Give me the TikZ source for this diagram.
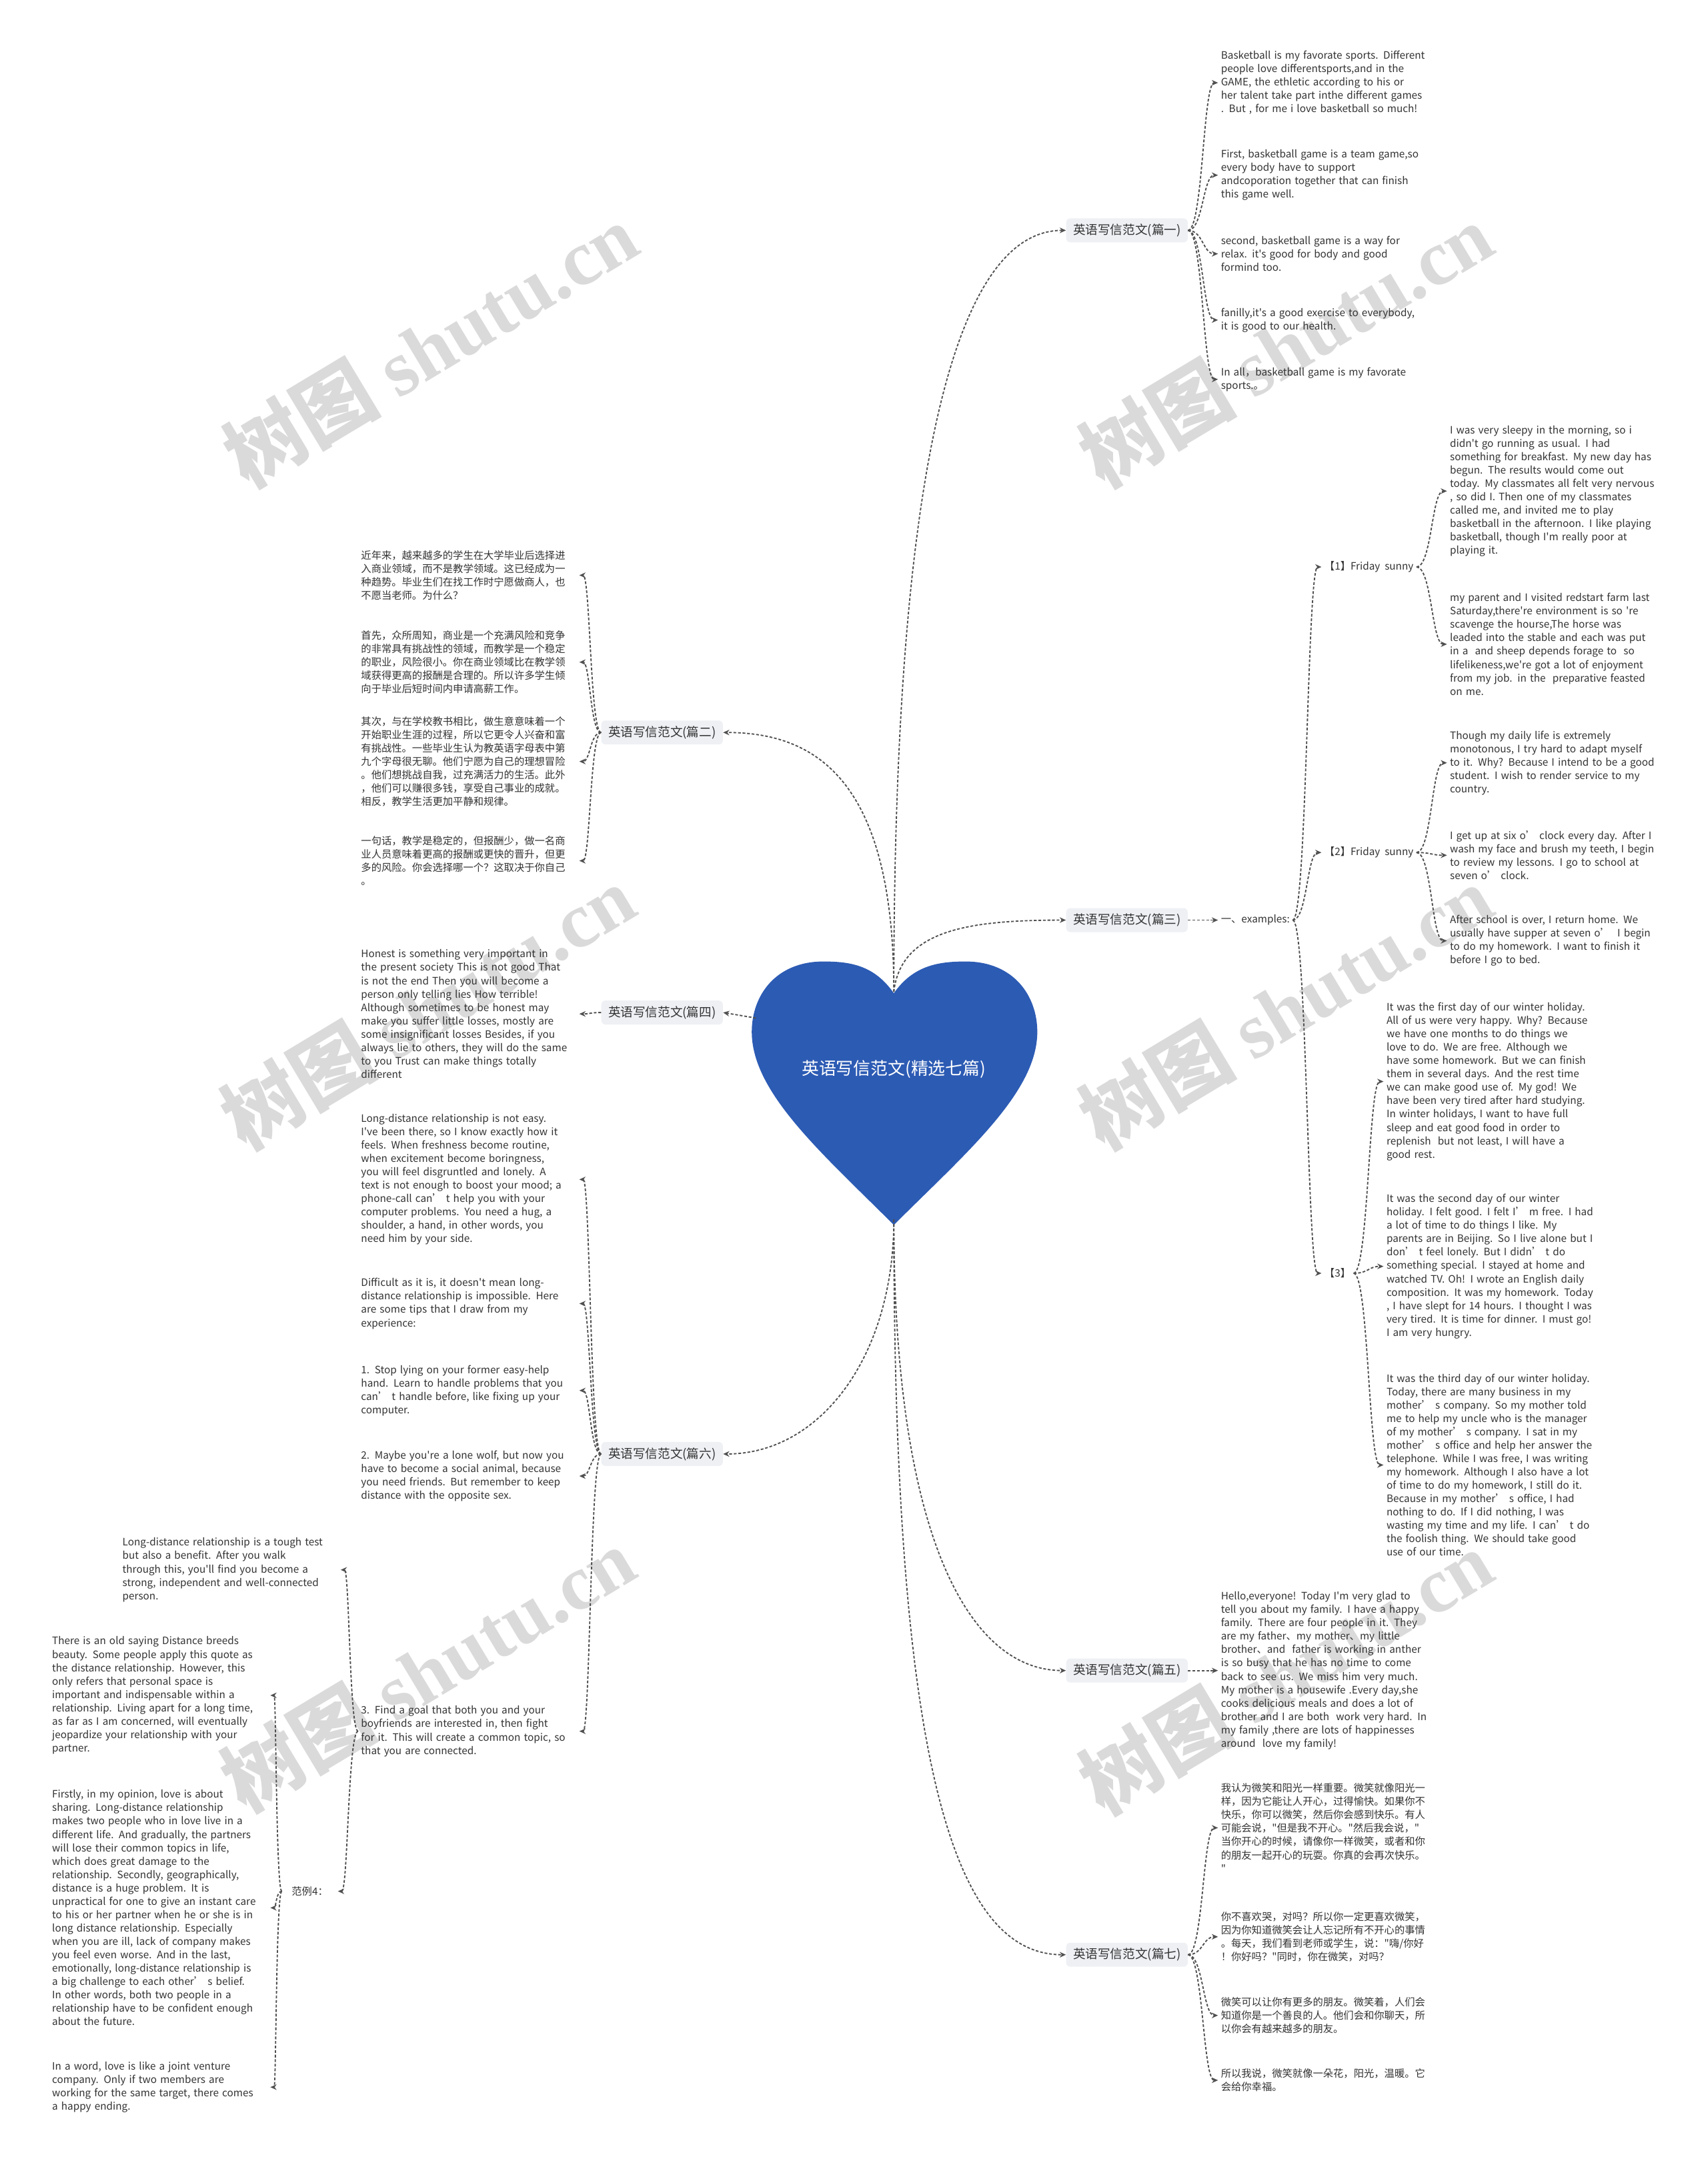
\documentclass[tikz,border=0pt]{standalone}
\usepackage{fontspec}
\setmainfont{Noto Sans CJK SC}[Ligatures=TeXOff]
\newfontfamily\wmlatin{Liberation Serif}
\usepackage{tikz}
\usetikzlibrary{arrows.meta, calc}
\definecolor{heartblue}{HTML}{2C5BB4}
\definecolor{linkgray}{HTML}{505050}
\definecolor{boxgray}{HTML}{EEF0F4}
\definecolor{inkgray}{HTML}{333333}
\definecolor{markgray}{HTML}{DADADA}

\tikzset{
  link/.style={draw=linkgray, line width=0.9pt, dash pattern=on 2pt off 1.3pt, -{Stealth[length=4.5pt,width=4pt]}},
  fanto/.style={to path={let \p1=(\tikztostart), \p2=(\tikztotarget) in
      .. controls ({0.5*\x1+0.5*\x2},\y1) and ({0.5*\x1+0.5*\x2},\y2) .. (\tikztotarget)}},
  branch/.style={fill=boxgray, rounded corners=3pt, text=inkgray, font=\fontsize{9}{11}\selectfont, inner xsep=5pt, inner ysep=4pt},
  leaf/.style={text=inkgray, font=\fontsize{7.4}{9.7}\selectfont, align=left, text width=156pt, inner sep=2pt},
  tag/.style={text=inkgray, font=\fontsize{7.4}{9.7}\selectfont, inner sep=2pt},
  wmark/.style={text=markgray, rotate=31, font=\fontsize{57}{60}\selectfont\bfseries},
}

\begin{document}
\begin{tikzpicture}[x=1pt, y=-1pt]
  \useasboundingbox[fill=white] (0,0) rectangle (1238,1568);

  % Watermarks
  \node[wmark] (wm1) at (312,250) {树图 {\wmlatin shutu.cn}};
  \node[wmark] (wm2) at (932,250) {树图 {\wmlatin shutu.cn}};
  \node[wmark] (wm3) at (310,730) {树图 {\wmlatin shutu.cn}};
  \node[wmark] (wm4) at (932,730) {树图 {\wmlatin shutu.cn}};
  \node[wmark] (wm5) at (310,1210) {树图 {\wmlatin shutu.cn}};
  \node[wmark] (wm6) at (932,1212) {树图 {\wmlatin shutu.cn}};

  % Heart (root)
  \fill[heartblue] (648,720) .. controls (662,700) and (680,697) .. (700,697)
    .. controls (735,697) and (752,722) .. (752,748)
    .. controls (752,792) and (700,836) .. (648,888)
    .. controls (596,836) and (545,792) .. (545,748)
    .. controls (545,722) and (562,697) .. (597,697)
    .. controls (617,697) and (634,700) .. (648,720) -- cycle;
  \node[text=white, font=\fontsize{12.5}{14}\selectfont] (root) at (648,775) {英语写信范文(精选七篇)};
  \coordinate (htop) at (648,719);
  \coordinate (hbot) at (648,884);
  \coordinate (hleft) at (548,738);

  % Branches
  \node[branch] (b1) at (817,167) {英语写信范文(篇一)};
  \node[branch] (b3) at (817,667) {英语写信范文(篇三)};
  \node[branch] (b5) at (817,1211) {英语写信范文(篇五)};
  \node[branch] (b7) at (817,1417) {英语写信范文(篇七)};
  \node[branch] (b2) at (480,531) {英语写信范文(篇二)};
  \node[branch] (b4) at (480,734) {英语写信范文(篇四)};
  \node[branch] (b6) at (480,1054) {英语写信范文(篇六)};

  \draw[link] (htop) .. controls +(0,-380) and +(-80,0) .. (b1.west);
  \draw[link] (htop) .. controls +(5,-45) and +(-70,0) .. (b3.west);
  \draw[link] (htop) .. controls +(0,-150) and +(70,0) .. (b2.east);
  \draw[link] (hleft) -- (b4.east);
  \draw[link] (hbot) .. controls +(0,100) and +(70,0) .. (b6.east);
  \draw[link] (hbot) .. controls +(0,230) and +(-70,0) .. (b5.west);
  \draw[link] (hbot) .. controls +(0,400) and +(-80,0) .. (b7.west);

  % 篇一
  \node[leaf, anchor=west] (a1) at (883,60) {Basketball is my favorate sports. Different\\ people love differentsports,and in the\\GAME, the ethletic according to his or\\her talent take part inthe different games\\. But , for me i love basketball so much!};
  \node[leaf, anchor=west] (a2) at (883,127) {First, basketball game is a team game,so\\every body have to support\\andcoporation together that can finish\\this game well.};
  \node[leaf, anchor=west] (a3) at (883,184) {second, basketball game is a way for\\relax. it's good for body and good\\formind too.};
  \node[leaf, anchor=west] (a4) at (883,232) {fanilly,it's a good exercise to everybody,\\it is good to our health.};
  \node[leaf, anchor=west] (a5) at (883,275) {In all，basketball game is my favorate\\sports.。};
  \draw[link] (b1.east) to[fanto] (a1.west);
  \draw[link] (b1.east) to[fanto] (a2.west);
  \draw[link] (b1.east) to[fanto] (a3.west);
  \draw[link] (b1.east) to[fanto] (a4.west);
  \draw[link] (b1.east) to[fanto] (a5.west);

  % 篇三
  \node[tag, anchor=west] (ex) at (883,667) {一、examples:};
  \node[tag, anchor=west] (f1) at (958,411) {【1】Friday\ \ sunny};
  \node[tag, anchor=west] (f2) at (958,618) {【2】Friday\ \ sunny};
  \node[tag, anchor=west] (f3) at (958,923) {【3】};
  \draw[link] (b3.east) -- (ex.west);
  \draw[link] (ex.east) to[fanto] (f1.west);
  \draw[link] (ex.east) to[fanto] (f2.west);
  \draw[link] (ex.east) to[fanto] (f3.west);

  \node[leaf, anchor=west] (g11) at (1049,356) {I was very sleepy in the morning, so i\\didn't go running as usual. I had\\something for breakfast. My new day has\\ begun. The results would come out\\today. My classmates all felt very nervous\\, so did I. Then one of my classmates\\called me, and invited me to play\\basketball in the afternoon. I like playing\\basketball, though I'm really poor at\\playing it.};
  \node[leaf, anchor=west] (g12) at (1049,467) {my parent and I visited redstart farm last\\Saturday,there're environment is so 're\\scavenge the hourse,The horse was\\leaded into the stable and each was put\\in a\ \ and sheep depends forage to\ \ so\\lifelikeness,we're got a lot of enjoyment\\from my job. in the\ \ preparative feasted\\on me.};
  \draw[link] (f1.east) to[fanto] (g11.west);
  \draw[link] (f1.east) to[fanto] (g12.west);

  \node[leaf, anchor=west] (g21) at (1049,553) {Though my daily life is extremely\\monotonous, I try hard to adapt myself\\to it. Why? Because I intend to be a good\\ student. I wish to render service to my\\country.};
  \node[leaf, anchor=west] (g22) at (1049,620) {I get up at six o’ clock every day. After I\\wash my face and brush my teeth, I begin\\ to review my lessons. I go to school at\\seven o’ clock.};
  \node[leaf, anchor=west] (g23) at (1049,682) {After school is over, I return home. We\\usually have supper at seven o’ \ I begin\\to do my homework. I want to finish it\\before I go to bed.};
  \draw[link] (f2.east) to[fanto] (g21.west);
  \draw[link] (f2.east) to[fanto] (g22.west);
  \draw[link] (f2.east) to[fanto] (g23.west);

  \node[leaf, anchor=west] (g31) at (1003,784) {It was the first day of our winter holiday.\\All of us were very happy. Why? Because\\we have one months to do things we\\love to do. We are free. Although we\\have some homework. But we can finish\\them in several days. And the rest time\\we can make good use of. My god! We\\have been very tired after hard studying.\\In winter holidays, I want to have full\\sleep and eat good food in order to\\replenish\ \ but not least, I will have a\\good rest.};
  \node[leaf, anchor=west] (g32) at (1003,918) {It was the second day of our winter\\holiday. I felt good. I felt I’ m free. I had\\a lot of time to do things I like. My\\parents are in Beijing. So I live alone but I\\ don’ t feel lonely. But I didn’ t do\\something special. I stayed at home and\\watched TV. Oh! I wrote an English daily\\composition. It was my homework. Today\\, I have slept for 14 hours. I thought I was\\ very tired. It is time for dinner. I must go!\\ I am very hungry.};
  \node[leaf, anchor=west] (g33) at (1003,1062) {It was the third day of our winter holiday.\\ Today, there are many business in my\\mother’ s company. So my mother told\\me to help my uncle who is the manager\\of my mother’ s company. I sat in my\\mother’ s office and help her answer the\\ telephone. While I was free, I was writing\\ my homework. Although I also have a lot\\ of time to do my homework, I still do it.\\Because in my mother’ s office, I had\\nothing to do. If I did nothing, I was\\wasting my time and my life. I can’ t do\\the foolish thing. We should take good\\use of our time.};
  \draw[link] (f3.east) to[fanto] (g31.west);
  \draw[link] (f3.east) to[fanto] (g32.west);
  \draw[link] (f3.east) to[fanto] (g33.west);

  % 篇五
  \node[leaf, anchor=west] (e1) at (883,1211) {Hello,everyone! Today I'm very glad to\\tell you about my family. I have a happy\\family. There are four people in it. They\\are my father、my mother、my little\\brother、and\ \ father is working in anther\\ is so busy that he has no time to come\\back to see us. We miss him very much.\\My mother is a housewife .Every day,she\\cooks delicious meals and does a lot of\\brother and I are both\ \ work very hard. In\\ my family ,there are lots of happinesses\\around\ \ love my family!};
  \draw[link] (b5.east) -- (e1.west);

  % 篇七
  \node[leaf, anchor=west] (s1) at (883,1325) {我认为微笑和阳光一样重要。微笑就像阳光一\\样，因为它能让人开心，过得愉快。如果你不\\快乐，你可以微笑，然后你会感到快乐。有人\\可能会说，"但是我不开心。"然后我会说，"\\当你开心的时候，请像你一样微笑，或者和你\\的朋友一起开心的玩耍。你真的会再次快乐。\\"};
  \node[leaf, anchor=west] (s2) at (883,1404) {你不喜欢哭，对吗？所以你一定更喜欢微笑，\\因为你知道微笑会让人忘记所有不开心的事情\\。每天，我们看到老师或学生，说："嗨/你好\\！你好吗？"同时，你在微笑，对吗？};
  \node[leaf, anchor=west] (s3) at (883,1461) {微笑可以让你有更多的朋友。微笑着，人们会\\知道你是一个善良的人。他们会和你聊天，所\\以你会有越来越多的朋友。};
  \node[leaf, anchor=west] (s4) at (883,1508) {所以我说，微笑就像一朵花，阳光，温暖。它\\会给你幸福。};
  \draw[link] (b7.east) to[fanto] (s1.west);
  \draw[link] (b7.east) to[fanto] (s2.west);
  \draw[link] (b7.east) to[fanto] (s3.west);
  \draw[link] (b7.east) to[fanto] (s4.west);

  % 篇二
  \node[leaf, anchor=east] (c1) at (420,417) {近年来，越来越多的学生在大学毕业后选择进\\入商业领域，而不是教学领域。这已经成为一\\种趋势。毕业生们在找工作时宁愿做商人，也\\不愿当老师。为什么？};
  \node[leaf, anchor=east] (c2) at (420,480) {首先，众所周知，商业是一个充满风险和竞争\\的非常具有挑战性的领域，而教学是一个稳定\\的职业，风险很小。你在商业领域比在教学领\\域获得更高的报酬是合理的。所以许多学生倾\\向于毕业后短时间内申请高薪工作。};
  \node[leaf, anchor=east] (c3) at (420,552) {其次，与在学校教书相比，做生意意味着一个\\开始职业生涯的过程，所以它更令人兴奋和富\\有挑战性。一些毕业生认为教英语字母表中第\\九个字母很无聊。他们宁愿为自己的理想冒险\\。他们想挑战自我，过充满活力的生活。此外\\，他们可以赚很多钱，享受自己事业的成就。\\相反，教学生活更加平静和规律。};
  \node[leaf, anchor=east] (c4) at (420,624) {一句话，教学是稳定的，但报酬少，做一名商\\业人员意味着更高的报酬或更快的晋升，但更\\多的风险。你会选择哪一个？这取决于你自己\\。};
  \draw[link] (b2.west) to[fanto] (c1.east);
  \draw[link] (b2.west) to[fanto] (c2.east);
  \draw[link] (b2.west) to[fanto] (c3.east);
  \draw[link] (b2.west) to[fanto] (c4.east);

  % 篇四
  \node[leaf, anchor=east] (d1) at (420,735) {Honest is something very important in\\the present society This is not good That\\is not the end Then you will become a\\person only telling lies How terrible!\\Although sometimes to be honest may\\make you suffer little losses, mostly are\\some insignificant losses Besides, if you\\always lie to others, they will do the same\\ to you Trust can make things totally\\different};
  \draw[link] (b4.west) to[fanto] (d1.east);

  % 篇六
  \node[leaf, anchor=east] (h1) at (420,855) {Long-distance relationship is not easy.\\I've been there, so I know exactly how it\\feels. When freshness become routine,\\when excitement become boringness,\\you will feel disgruntled and lonely. A\\text is not enough to boost your mood; a\\ phone-call can’ t help you with your\\computer problems. You need a hug, a\\shoulder, a hand, in other words, you\\need him by your side.};
  \node[leaf, anchor=east] (h2) at (420,945) {Difficult as it is, it doesn't mean long-\\distance relationship is impossible. Here\\are some tips that I draw from my\\experience:};
  \node[leaf, anchor=east] (h3) at (420,1008) {1. Stop lying on your former easy-help\\hand. Learn to handle problems that you\\can’ t handle before, like fixing up your\\computer.};
  \node[leaf, anchor=east] (h4) at (420,1070) {2. Maybe you're a lone wolf, but now you\\ have to become a social animal, because\\ you need friends. But remember to keep\\distance with the opposite sex.};
  \node[leaf, anchor=east] (h5) at (420,1255) {3. Find a goal that both you and your\\boyfriends are interested in, then fight\\for it. This will create a common topic, so\\that you are connected.};
  \draw[link] (b6.west) to[fanto] (h1.east);
  \draw[link] (b6.west) to[fanto] (h2.east);
  \draw[link] (b6.west) to[fanto] (h3.east);
  \draw[link] (b6.west) to[fanto] (h4.east);
  \draw[link] (b6.west) to[fanto] (h5.east);

  % 3. Find a goal ...
  \node[leaf, anchor=east] (k1) at (247,1138) {Long-distance relationship is a tough test\\ but also a benefit. After you walk\\through this, you'll find you become a\\strong, independent and well-connected\\person.};
  \node[tag, anchor=east, inner xsep=7pt] (fan4) at (245,1371) {范例4：};
  \draw[link] (h5.west) to[fanto] (k1.east);
  \draw[link] (h5.west) to[fanto] (fan4.east);

  % 范例4
  \node[leaf, anchor=east] (m1) at (196,1229) {There is an old saying Distance breeds\\beauty. Some people apply this quote as\\the distance relationship. However, this\\only refers that personal space is\\important and indispensable within a\\relationship. Living apart for a long time,\\as far as I am concerned, will eventually\\jeopardize your relationship with your\\partner.};
  \node[leaf, anchor=east] (m2) at (196,1383) {Firstly, in my opinion, love is about\\sharing. Long-distance relationship\\makes two people who in love live in a\\different life. And gradually, the partners\\will lose their common topics in life,\\which does great damage to the\\relationship. Secondly, geographically,\\distance is a huge problem. It is\\unpractical for one to give an instant care\\ to his or her partner when he or she is in\\ long distance relationship. Especially\\when you are ill, lack of company makes\\you feel even worse. And in the last,\\emotionally, long-distance relationship is\\ a big challenge to each other’ s belief.\\In other words, both two people in a\\relationship have to be confident enough\\ about the future.};
  \node[leaf, anchor=east] (m3) at (196,1513) {In a word, love is like a joint venture\\company. Only if two members are\\working for the same target, there comes\\ a happy ending.};
  \draw[link] (fan4.west) to[fanto] (m1.east);
  \draw[link] (fan4.west) to[fanto] (m2.east);
  \draw[link] (fan4.west) to[fanto] (m3.east);
\end{tikzpicture}
\end{document}
